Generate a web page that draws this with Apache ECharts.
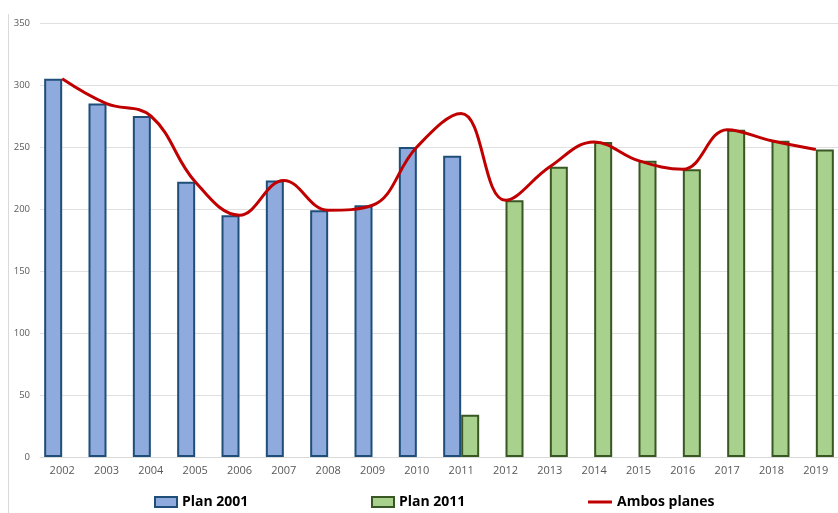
<!DOCTYPE html>
<html lang="es" style="height: 100%">
<head>
  <meta charset="utf-8">
  <title>Plan 2001 / Plan 2011</title>
</head>
<body style="height: 100%; margin: 0; background: #fff">
  <div id="container" style="width: 838px; height: 513px;"></div>

  <script type="text/javascript" src="https://cdn.jsdelivr.net/npm/echarts@6/dist/echarts.min.js"></script>
  <script type="text/javascript">
    // datos
    var years = ['2002', '2003', '2004', '2005', '2006', '2007', '2008', '2009', '2010', '2011',
                 '2012', '2013', '2014', '2015', '2016', '2017', '2018', '2019'];
    var plan2001 = [305, 285, 275, 222, 195, 223, 199, 203, 250, 243,
                    null, null, null, null, null, null, null, null];
    var plan2011 = [null, null, null, null, null, null, null, null, null, 34,
                    207, 234, 254, 239, 232, 264, 255, 248];
    var yTicks = [0, 50, 100, 150, 200, 250, 300, 350];

    // la linea es la suma de ambos planes
    var ambos = years.map(function (y, i) {
      return (plan2001[i] || 0) + (plan2011[i] || 0);
    });

    var myChart = echarts.init(document.getElementById('container'), null, { renderer: 'canvas' });

    var labelFont = 'Open Sans, Noto Sans, sans-serif';
    var legendText = { fontFamily: labelFont, fontWeight: 'bold', fontSize: 14, color: '#000' };

    var option = {
      animation: false,
      grid: { left: 40, right: 0, top: 23, bottom: 56 },
      legend: [
        {
          data: [{ name: 'Plan 2001', icon: 'rect' }], left: 149, top: 490,
          itemWidth: 22, itemHeight: 10, itemGap: 4,
          itemStyle: { borderWidth: 2 },
          textStyle: legendText
        },
        {
          data: [{ name: 'Plan 2011', icon: 'rect' }], left: 366, top: 490,
          itemWidth: 22, itemHeight: 10,
          itemStyle: { borderWidth: 2 },
          textStyle: legendText
        },
        {
          data: [{ name: 'Ambos planes', icon: 'rect' }], left: 583, top: 490,
          itemWidth: 24, itemHeight: 3,
          textStyle: legendText
        }
      ],
      xAxis: {
        type: 'category',
        data: years,
        axisTick: { show: false },
        axisLine: { lineStyle: { color: '#D9D9D9', width: 1 } },
        axisLabel: { color: '#595959', fontSize: 11, fontFamily: labelFont, margin: 8 }
      },
      yAxis: {
        type: 'value',
        min: yTicks[0],
        max: yTicks[yTicks.length - 1],
        interval: 50,
        axisLine: { show: false },
        axisTick: { show: false },
        splitLine: { lineStyle: { color: '#E0E0E0', width: 1 } },
        axisLabel: { color: '#595959', fontSize: 9.5, fontFamily: labelFont, margin: 10 }
      },
      series: [
        {
          name: 'Plan 2001',
          type: 'bar',
          data: plan2001,
          barWidth: 18,
          barGap: '0%',
          itemStyle: { color: '#8FAADC', borderColor: '#1F4E79', borderWidth: 2 }
        },
        {
          name: 'Plan 2011',
          type: 'bar',
          data: plan2011,
          barWidth: 18,
          barGap: '0%',
          itemStyle: { color: '#A9D18E', borderColor: '#385723', borderWidth: 2 }
        },
        {
          name: 'Ambos planes',
          type: 'line',
          data: ambos,
          smooth: 0.4,
          symbol: 'none',
          z: 5,
          lineStyle: { color: '#C00000', width: 3 },
          itemStyle: { color: '#C00000' }
        }
      ],
      graphic: [
        {
          type: 'line',
          shape: { x1: 8.5, y1: 14, x2: 8.5, y2: 513 },
          style: { stroke: '#D9D9D9', lineWidth: 1 }
        }
      ]
    };

    myChart.setOption(option);
  </script>
</body>
</html>
